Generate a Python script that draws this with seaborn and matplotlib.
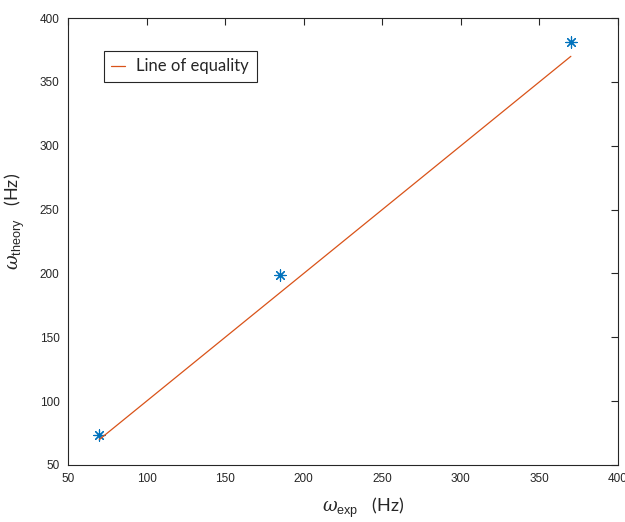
import pandas as pd
import seaborn as sns
import matplotlib.pyplot as plt

# measured vs predicted frequencies (Hz)
w_exp = [70, 185, 370]
w_theory = [73.5, 198.5, 381]
equality = [70, 370]

sns.set_style("white")
plt.rcParams["font.family"] = ["Liberation Sans", "DejaVu Sans"]
plt.rcParams["mathtext.fontset"] = "custom"
plt.rcParams["mathtext.it"] = "DejaVu Serif:italic"
plt.rcParams["mathtext.rm"] = "Liberation Sans"

pts = pd.DataFrame({"exp": w_exp, "theory": w_theory})
line = pd.DataFrame({"x": equality, "y": equality})

fig = plt.figure(figsize=(6.25, 5.22), dpi=100)
ax = fig.add_axes([0.1088, 0.1092, 0.88, 0.8563])

sns.lineplot(data=line, x="x", y="y", color="#D95319", linewidth=0.9,
             label="Line of equality", ax=ax)
sns.scatterplot(data=pts, x="exp", y="theory", marker=(8, 2, 0), s=65,
                color="#0072BD", edgecolor="#0072BD", linewidth=0.85, ax=ax,
                legend=False)

ax.set_xlim(50, 400)
ax.set_ylim(50, 400)
ax.set_xticks(range(50, 401, 50))
ax.set_yticks(range(50, 401, 50))
ax.tick_params(direction="in", length=5, width=0.8, color="#262626",
               labelsize=8.5, top=True, right=True, pad=6)
for s in ax.spines.values():
    s.set_color("#262626")
    s.set_linewidth(0.8)

ax.set_xlabel(r"$\omega_{\mathrm{exp}}$$\;\;\;$(Hz)", fontsize=13,
              family=["Lato", "DejaVu Sans"])
ax.set_ylabel(r"$\omega_{\mathrm{theory}}$$\;\;\;$(Hz)", fontsize=13,
              family=["Lato", "DejaVu Sans"])
ax.xaxis.set_label_coords(0.536, -0.068)
ax.yaxis.set_label_coords(-0.075, 0.544)

leg = ax.legend(loc="upper left", bbox_to_anchor=(0.05, 0.945),
                prop={"family": "Lato", "size": 12}, handlelength=0.8,
                handletextpad=0.7, borderpad=0.45, fancybox=False,
                framealpha=1)
leg.get_frame().set_edgecolor("#262626")
leg.get_frame().set_linewidth(0.8)

plt.savefig("out.png", dpi=100)
